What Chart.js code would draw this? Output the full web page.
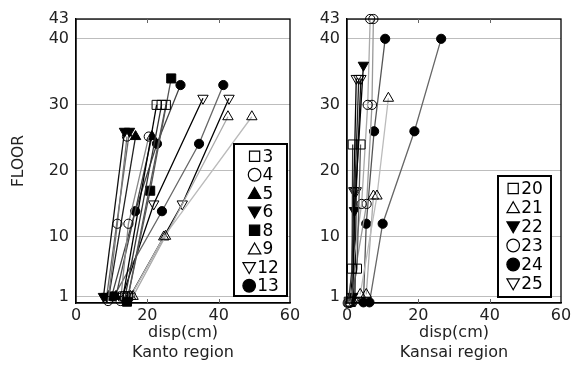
<!DOCTYPE html>
<html><head><meta charset="utf-8">
<script src="https://cdn.jsdelivr.net/npm/chart.js@4/dist/chart.umd.min.js"></script>
<style>
html,body{margin:0;padding:0;background:#fff;}
#wrap{position:relative;width:577px;height:365px;background:#fff;}
canvas{position:absolute;left:0;top:0;}
</style></head><body>
<div id="wrap"><canvas id="c1" width="577" height="365" style="width:577px;height:365px"></canvas><canvas id="c2" width="577" height="365" style="width:577px;height:365px"></canvas></div>
<script>
// ---------- DATA ----------
const kantoCategories = ['3','4','5','6','8','9','12','13'];
const kansaiCategories = ['20','21','22','23','24','25'];
const yTickValues = [1,10,20,30,40,43];
const xTickValues = [0,20,40,60];

// Kanto region buildings: [disp(cm), floor]
const k3a  = [[13.2,1],[22.6,30]];
const k3b  = [[13.8,1],[24.0,30]];
const k3c  = [[14.6,1],[25.2,30]];
const k4a  = [[9.0,0.3],[11.6,12],[14.3,25.2]];
const k4b  = [[12.5,0.3],[14.7,12],[20.4,25.2]];
const k5a  = [[9.2,1],[16.7,25.2]];
const k5b  = [[11.2,1],[21.3,25.2]];
const k6a  = [[7.7,1],[13.6,26]];
const k6b  = [[8.6,1],[15.0,26]];
const k8   = [[14.3,0.2],[20.8,17],[26.7,34]];
const k9a  = [[16.0,1],[25.1,10.1],[42.6,28.2]];
const k9b  = [[15.3,1],[24.6,10],[49.3,28.2]];
const k12a = [[13.0,1],[21.8,15],[35.6,31]];
const k12b = [[15.2,1],[29.8,15],[42.9,31]];
const k13a = [[10.0,1],[16.6,13.9],[22.7,24.1],[29.3,33]];
const k13b = [[10.6,1],[24.1,13.9],[34.5,24.1],[41.3,33]];

// Kansai region buildings
const s20a = [[0.5,0.2],[1.4,5.2],[1.6,24]];
const s20b = [[1.0,0.2],[2.8,5.2],[3.8,24]];
const s21a = [[3.7,1.3],[8.4,16.2],[11.6,31]];
const s21b = [[5.4,1.3],[7.4,16.2]];
const s22  = [[1.6,1],[2.1,14],[4.6,36]];
const s23a = [[0.2,0],[4.1,15],[5.8,30],[6.5,43]];
const s23b = [[0.8,0],[5.5,15],[7.0,30],[7.4,43]];
const s24a = [[4.6,0.1],[5.4,12],[7.6,26],[10.7,40]];
const s24b = [[6.3,0.1],[10.0,12],[18.9,26],[26.4,40]];
const s25a = [[1.2,0.3],[1.9,17],[2.6,34]];
const s25b = [[1.8,0.3],[2.2,17],[3.3,34]];
const s25c = [[2.2,0.3],[2.6,17],[3.9,34]];

const kantoBuildings = [['3',k3a],['3',k3b],['3',k3c],['4',k4a],['4',k4b],['5',k5a],['5',k5b],['6',k6a],['6',k6b],['8',k8],['9',k9a],['9',k9b],['12',k12a],['12',k12b],['13',k13a],['13',k13b]];
const kansaiBuildings = [['20',s20a],['20',s20b],['21',s21a],['21',s21b],['22',s22],['23',s23a],['23',s23b],['24',s24a],['24',s24b],['25',s25a],['25',s25b],['25',s25c]];

// ---------- STYLE ----------
const kantoLineColors = ['#000','#333','#555','#777','#888','#222','#444','#111','#666','#555','#aaa','#bbb','#000','#000','#444','#666'];
const kansaiLineColors = ['#333','#555','#bbb','#aaa','#000','#aaa','#999','#555','#666','#000','#222','#111'];
const markerStyles = {
  '3':['rect',false,0], '4':['circle',false,0], '5':['triangle',true,0], '6':['triangle',true,180],
  '8':['rect',true,0], '9':['triangle',false,0], '12':['triangle',false,180], '13':['circle',true,0],
  '20':['rect',false,0], '21':['triangle',false,0], '22':['triangle',true,180], '23':['circle',false,0],
  '24':['circle',true,0], '25':['triangle',false,180]
};
const plotRadius = {rect:6.4, circle:4.6, triangle:6};
const legendRadius = {rect:7.2, circle:6.3, triangle:7.2};
const FONT = "'DejaVu Sans', sans-serif";
const TXT = '#222';

function makeDatasets(buildings, colors){
  return buildings.map(([cat, pts], i) => {
    const [shape, filled, rot] = markerStyles[cat];
    return {
      label: cat,
      data: pts.map(([x,y]) => ({x, y})),
      showLine: true, fill: false, tension: 0,
      borderColor: colors[i], borderWidth: 1.3,
      pointStyle: shape, pointRotation: rot,
      pointRadius: plotRadius[shape], pointHoverRadius: plotRadius[shape],
      pointBackgroundColor: filled ? '#000' : 'rgba(0,0,0,0)',
      pointBorderColor: '#000', pointBorderWidth: 1,
      clip: false
    };
  });
}

function drawMarker(ctx, shape, filled, rot, r, x, y){
  ctx.beginPath();
  if (shape === 'circle') {
    ctx.arc(x, y, r, 0, Math.PI*2);
  } else if (shape === 'rect') {
    const s = r*Math.SQRT1_2;
    ctx.rect(x-s, y-s, 2*s, 2*s);
  } else {
    let a = rot*Math.PI/180;
    for (let k=0;k<3;k++){
      const px = x + Math.sin(a)*r, py = y - Math.cos(a)*r;
      if (k===0) ctx.moveTo(px,py); else ctx.lineTo(px,py);
      a += 2*Math.PI/3;
    }
    ctx.closePath();
  }
  ctx.fillStyle = filled ? '#000' : '#fff';
  ctx.fill();
  ctx.strokeStyle='#000'; ctx.lineWidth=1.2; ctx.stroke();
}

const framePlugin = {
  id: 'frame',
  afterDatasetsDraw(chart, args, opts){
    const {ctx, chartArea:a} = chart;
    const xs = chart.scales.x;
    ctx.save();
    ctx.strokeStyle = '#000'; ctx.lineWidth = 1.3;
    ctx.strokeRect(a.left, a.top, a.right-a.left, a.bottom-a.top);
    ctx.lineWidth = 1;
    ctx.strokeStyle = '#666';
    xTickValues.slice(1,-1).forEach(v => {
      const px = Math.round(xs.getPixelForValue(v))+0.5;
      ctx.beginPath();
      ctx.moveTo(px, a.top); ctx.lineTo(px, a.top+4);
      ctx.moveTo(px, a.bottom); ctx.lineTo(px, a.bottom-4);
      ctx.stroke();
    });
    // legend box
    const cats = opts.categories;
    const bx = a.right - opts.offRight - opts.w, by = opts.top, bw = opts.w, bh = opts.h;
    ctx.fillStyle = '#fff';
    ctx.fillRect(bx, by, bw, bh);
    ctx.strokeStyle = '#000'; ctx.lineWidth = 2;
    ctx.strokeRect(bx, by, bw, bh);
    const rowH = (bh - opts.padTop - opts.padBottom) / cats.length;
    ctx.font = '17px ' + FONT;
    ctx.textBaseline = 'middle';
    ctx.textAlign = 'left';
    cats.forEach((c, i) => {
      const [shape, filled, rot] = markerStyles[c];
      const r = legendRadius[shape];
      const tw = ctx.measureText(c).width;
      const gw = 14 + 1 + tw;
      const gx = bx + bw/2 - gw/2;
      const cy = by + opts.padTop + rowH*(i+0.5);
      drawMarker(ctx, shape, filled, rot, r, gx+7, cy + (shape==='triangle' ? (rot ? -1 : 1.5) : 0));
      ctx.fillStyle = '#000';
      ctx.fillText(c, gx + 15, cy + 1);
    });
    ctx.restore();
  }
};

function makeChart(id, buildings, colors, cats, pad, yWidth, xTitle, yTitle, legendOpts){
  return new Chart(document.getElementById(id), {
    type: 'scatter',
    data: { datasets: makeDatasets(buildings, colors) },
    options: {
      responsive: false, animation: false, devicePixelRatio: 1,
      layout: { padding: pad },
      plugins: { legend: {display:false}, tooltip: {enabled:false}, frame: legendOpts },
      scales: {
        x: {
          type: 'linear', min: 0, max: 60,
          afterBuildTicks: s => { s.ticks = xTickValues.map(v => ({value:v})); },
          afterFit: s => { s.height = 62; },
          ticks: { font: {family: FONT, size: 16}, color: TXT, padding: 3, maxRotation: 0 },
          grid: { display: true, drawOnChartArea: false, drawTicks: false },
          border: { display: true, color: '#000', width: 1.3 },
          title: { display: true, text: xTitle, color: TXT, font: {family: FONT, size: 16, lineHeight: 1.25}, padding: {top:0, bottom: 2.5} }
        },
        y: {
          type: 'linear', min: 0, max: 43,
          afterBuildTicks: s => { s.ticks = yTickValues.map(v => ({value:v})); },
          afterFit: s => { s.width = yWidth; },
          ticks: { font: {family: FONT, size: 16}, color: TXT, padding: 7, autoSkip: false },
          grid: { color: '#bdbdbd', lineWidth: 1, drawTicks: false },
          border: { display: true, color: '#000', width: 1.3 },
          title: { display: !!yTitle, text: yTitle || '', color: TXT, font: {family: FONT, size: 15.5, lineHeight: 1.2}, padding: {top: 10, bottom: 0} }
        }
      }
    },
    plugins: [framePlugin]
  });
}

makeChart('c1', kantoBuildings, kantoLineColors, kantoCategories,
  {left:0, top:19, right:287, bottom:0}, 76, ['disp(cm)','Kanto region'], 'FLOOR',
  {categories: kantoCategories, w: 53, h: 152, top: 144, offRight: 3, padTop: 3, padBottom: 1});
makeChart('c2', kansaiBuildings, kansaiLineColors, kansaiCategories,
  {left:292, top:19, right:16, bottom:0}, 55, ['disp(cm)','Kansai region'], null,
  {categories: kansaiCategories, w: 53, h: 121, top: 176, offRight: 10, padTop: 3, padBottom: 4});
</script>
</body></html>
